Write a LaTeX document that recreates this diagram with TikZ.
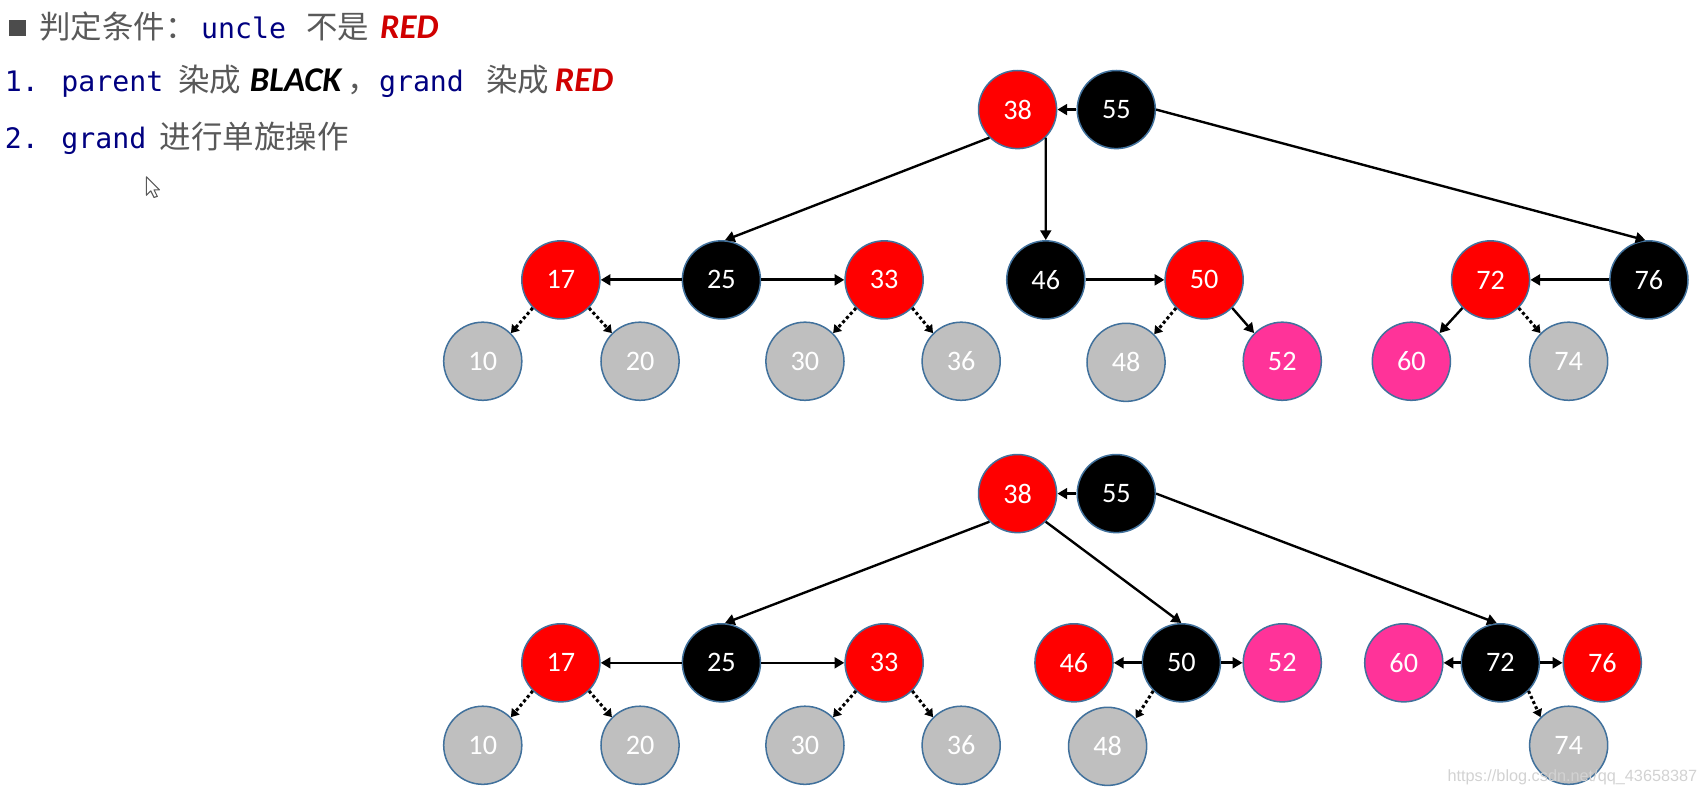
\documentclass[tikz,border=0pt]{standalone}
\usepackage{fontspec}
\setmainfont{Carlito}
\newfontfamily\cjk{Noto Sans CJK SC}
\newfontfamily\monof{DejaVu Sans Mono}
\newfontfamily\urlfont{Liberation Sans}
\usetikzlibrary{arrows.meta}
\definecolor{rbred}{HTML}{FF0000}
\definecolor{rbpink}{HTML}{FF3399}
\definecolor{rbgray}{HTML}{BFBFBF}
\definecolor{rbedge}{HTML}{41719C}
\definecolor{zhgray}{HTML}{595959}
\definecolor{codeblue}{HTML}{000080}
\definecolor{keyred}{HTML}{D00000}
\begin{document}
\begin{tikzpicture}[x=0.5pt,y=-0.5pt,
  rb/.style={circle, minimum size=36pt, inner sep=0pt, draw=rbedge, line width=0.7pt,
             text=white, font=\fontsize{13}{15}\selectfont},
  rnode/.style={rb, fill=rbred},
  bnode/.style={rb, fill=black},
  gnode/.style={rb, fill=rbgray},
  pnode/.style={rb, fill=rbpink},
  link/.style={line width=1.1pt, -{Triangle[length=4.5pt,width=5pt]}},
  hlink/.style={line width=1.3pt, -{Triangle[length=4.5pt,width=5pt]}},
  nil/.style={line width=1.4pt, dash pattern=on 1.4pt off 1.2pt, -{Triangle[length=3.5pt,width=4.5pt]}},
  txt/.style={anchor=base west, inner sep=0pt},
  zh/.style={txt, text=zhgray, font=\cjk\fontsize{14.5}{16}\selectfont},
  code/.style={txt, text=codeblue, font=\monof\fontsize{13}{15}\selectfont},
  key/.style={txt, font=\bfseries\itshape\fontsize{16}{18}\selectfont},
]
\useasboundingbox (0,0) rectangle (1568,732);

% ---- heading text ----
\fill[zhgray!85!black] (8,18) rectangle (24,33);
\node[zh] (t1a) at (36,35.3) {判定条件：};
\node[code] (t1b) at (185,35.3) {uncle};
\node[zh] (t1c) at (282,35.3) {不是};
\node[key, text=keyred] (t1d) at (350,35.3) {RED};

\node[code] (t2a) at (4,84.5) {1. parent};
\node[zh] (t2b) at (164,84.5) {染成};
\node[key] (t2c) at (230,84.5) {BLACK};
\node[zh] (t2d) at (320,84.5) {，};
\node[code] (t2e) at (349,84.5) {grand};
\node[zh] (t2f) at (448,84.5) {染成};
\node[key, text=keyred] (t2g) at (511,84.5) {RED};

\node[code] (t3a) at (4,136.7) {2. grand};
\node[zh] (t3b) at (147,136.7) {进行单旋操作};

% mouse pointer
\filldraw[fill=white, draw=gray!70!black, line width=0.5pt, line join=round]
  (135,163) -- (135,180) -- (139,176) -- (142,182) -- (145,181) -- (142,175) -- (147,175) -- cycle;

% ---- tree before rotation ----
\node[rnode] (t38) at (938,101) {38};
\node[bnode] (t55) at (1029,101) {55};
\node[rnode] (t17) at (517,258) {17};
\node[bnode] (t25) at (665,258) {25};
\node[rnode] (t33) at (815,258) {33};
\node[bnode] (t46) at (964,258) {46};
\node[rnode] (t50) at (1110,258) {50};
\node[rnode] (t72) at (1374,258) {72};
\node[bnode] (t76) at (1520,258) {76};
\node[gnode] (t10) at (445,333) {10};
\node[gnode] (t20) at (590,333) {20};
\node[gnode] (t30) at (742,333) {30};
\node[gnode] (t36) at (886,333) {36};
\node[gnode] (t48) at (1038,334) {48};
\node[pnode] (t52) at (1182,333) {52};
\node[pnode] (t60) at (1301,333) {60};
\node[gnode] (t74) at (1446,333) {74};

\draw[link] (t55) -- (t38);
\draw[link] (t55.east) -- (t76.95);
\draw[link] (t38.south west) -- (t25.85);
\draw[link] (t38.south east) -- (t46.north);
\draw[hlink] (t25) -- (t17);
\draw[hlink] (t25) -- (t33);
\draw[hlink] (t46) -- (t50);
\draw[hlink] (t76) -- (t72);
\draw[nil] (t17.south west) -- (t10.north east);
\draw[nil] (t17.south east) -- (t20.north west);
\draw[nil] (t33.south west) -- (t30.north east);
\draw[nil] (t33.south east) -- (t36.north west);
\draw[nil] (t50.south west) -- (t48.north east);
\draw[link] (t50.south east) -- (t52.north west);
\draw[link] (t72.south west) -- (t60.north east);
\draw[nil] (t72.south east) -- (t74.north west);

% ---- tree after rotation ----
\node[rnode] (b38) at (938,455) {38};
\node[bnode] (b55) at (1029,455) {55};
\node[rnode] (b17) at (517,611) {17};
\node[bnode] (b25) at (665,611) {25};
\node[rnode] (b33) at (815,611) {33};
\node[rnode] (b46) at (990,611) {46};
\node[bnode] (b50) at (1089,611) {50};
\node[pnode] (b52) at (1182,611) {52};
\node[pnode] (b60) at (1294,611) {60};
\node[bnode] (b72) at (1383,611) {72};
\node[rnode] (b76) at (1477,611) {76};
\node[gnode] (b10) at (445,687) {10};
\node[gnode] (b20) at (590,687) {20};
\node[gnode] (b30) at (742,687) {30};
\node[gnode] (b36) at (886,687) {36};
\node[gnode] (b48) at (1021,688) {48};
\node[gnode] (b74) at (1446,687) {74};

\draw[link] (b55) -- (b38);
\draw[link] (b55.east) -- (b72.95);
\draw[link] (b38.south west) -- (b25.85);
\draw[link] (b38.south east) -- (b50.north);
\draw[link] (b25) -- (b17);
\draw[link] (b25) -- (b33);
\draw[hlink] (b50) -- (b46);
\draw[hlink] (b50) -- (b52);
\draw[hlink] (b72) -- (b60);
\draw[hlink] (b72) -- (b76);
\draw[nil] (b17.south west) -- (b10.north east);
\draw[nil] (b17.south east) -- (b20.north west);
\draw[nil] (b33.south west) -- (b30.north east);
\draw[nil] (b33.south east) -- (b36.north west);
\draw[nil] (b50.south west) -- (b48.north east);
\draw[nil] (b72.south east) -- (b74.north west);

% source line
\node[txt, text=gray!35, font=\urlfont\fontsize{7.5}{9}\selectfont] (src) at (1334,720.6) {https://blog.csdn.net/qq\_43658387};
\end{tikzpicture}
\end{document}
